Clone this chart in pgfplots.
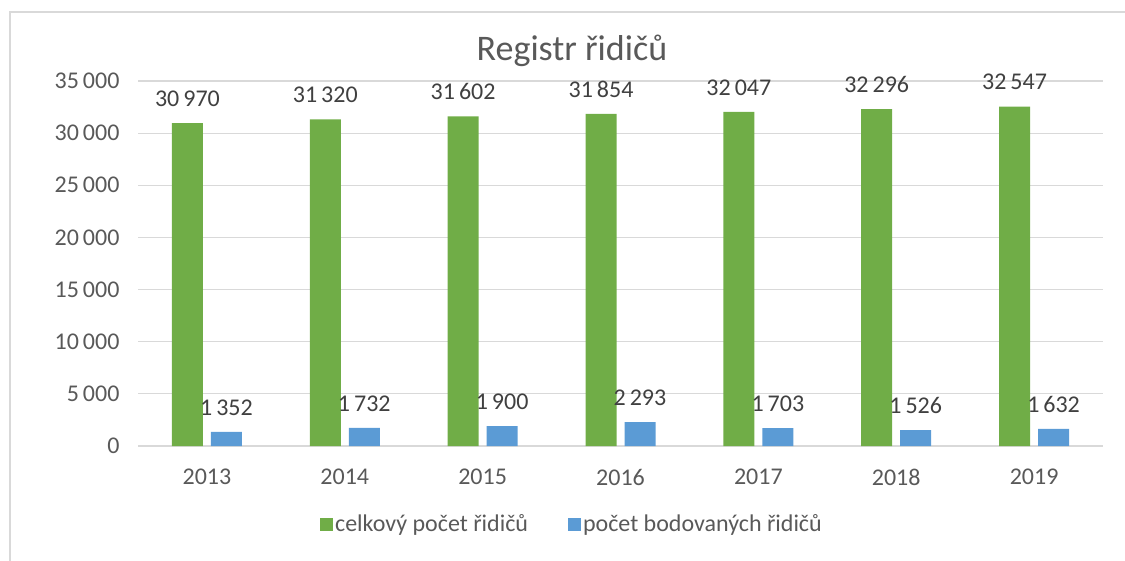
\documentclass[border=0pt]{standalone}
\usepackage{fontspec}
\setmainfont{Carlito}
\usepackage{pgfplots}
\pgfplotsset{compat=1.18}
\definecolor{cgreen}{HTML}{70AD47}
\definecolor{cblue}{HTML}{5B9BD5}
\definecolor{ctxt}{HTML}{595959}
\definecolor{clab}{HTML}{404040}
\definecolor{cgrid}{HTML}{D9D9D9}
\begin{document}
\begin{tikzpicture}[x=1pt,y=1pt]
\useasboundingbox (0,0) rectangle (1125,560);
\draw[cgrid, line width=1.5pt] (10,-10) rectangle (1140,548);
\begin{axis}[
  at={(138pt,114pt)}, anchor=south west,
  width=965pt, height=365pt, scale only axis,
  ybar=8pt, bar width=31pt,
  xmin=-0.5, xmax=6.5, ymin=0, ymax=35000,
  xtick={0,1,2,3,4,5,6},
  xticklabels={2013,2014,2015,2016,2017,2018,2019},
  ytick={0,5000,10000,15000,20000,25000,30000,35000},
  scaled y ticks=false,
  /pgf/number format/1000 sep={\,},
  /pgf/number format/assume math mode=true,
  tick style={draw=none},
  axis line style={draw=none},
  ymajorgrids, grid style={cgrid, line width=1.2pt},
  tick label style={font=\fontsize{24}{28}\selectfont, text=ctxt},
  xticklabel style={yshift=-15pt},
  yticklabel style={xshift=-15pt},
  title={Registr řidičů},
  title style={at={(rel axis cs:0.4497,1.0658)}, anchor=center, font=\fontsize{36}{42}\selectfont, text=ctxt},
  nodes near coords,
  nodes near coords style={font=\fontsize{24}{28}\selectfont, text=clab, anchor=south, yshift=13pt},
  legend columns=2,
  legend style={at={(rel axis cs:0.4497,-0.2137)}, anchor=center, draw=none, fill=none,
    font=\fontsize{24}{28}\selectfont, text=ctxt,
    /tikz/every even column/.append style={column sep=38pt}},
  legend image code/.code={\fill[#1] (0pt,-6.5pt) rectangle (13pt,6.5pt);},
]
\addplot[fill=cgreen, draw=none] coordinates {(0,30970) (1,31320) (2,31602) (3,31854) (4,32047) (5,32296) (6,32547)};
\addlegendentry{celkový počet řidičů}
\addplot[fill=cblue, draw=none] coordinates {(0,1352) (1,1732) (2,1900) (3,2293) (4,1703) (5,1526) (6,1632)};
\addlegendentry{počet bodovaných řidičů}
\end{axis}
\end{tikzpicture}
\end{document}
